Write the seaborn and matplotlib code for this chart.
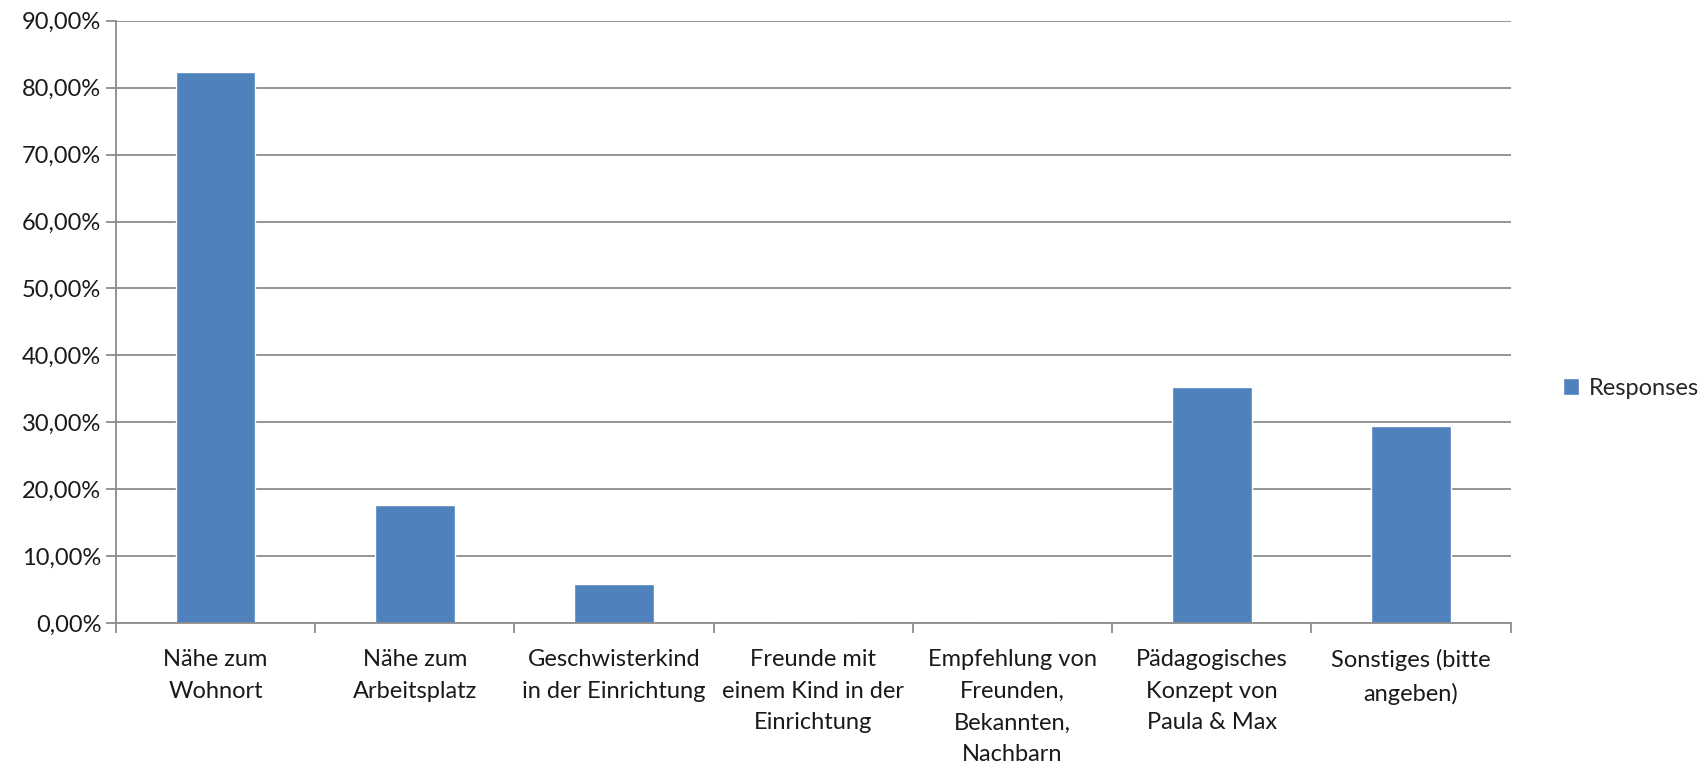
import pandas as pd
import matplotlib
matplotlib.use('Agg')
import matplotlib.pyplot as plt
from matplotlib.ticker import FuncFormatter, FixedLocator
import seaborn as sns

# chart data
categories = [
    "Nähe zum\nWohnort",
    "Nähe zum\nArbeitsplatz",
    "Geschwisterkind\nin der Einrichtung",
    "Freunde mit\neinem Kind in der\nEinrichtung",
    "Empfehlung von\nFreunden,\nBekannten,\nNachbarn",
    "Pädagogisches\nKonzept von\nPaula & Max",
    "Sonstiges (bitte\nangeben)",
]
responses = [82.35, 17.65, 5.88, 0.0, 0.0, 35.29, 29.41]
series_name = "Responses"

df = pd.DataFrame({"category": categories, "value": responses, "series": series_name})

sns.set_style("white")
plt.rcParams['font.family'] = ['Lato', 'DejaVu Sans']

fig = plt.figure(figsize=(17.05, 7.7), dpi=100)
ax = fig.add_axes([0.068, 0.191, 0.818, 0.782])

sns.barplot(data=df, x="category", y="value", hue="series", palette=["#4F81BD"],
            saturation=1, width=0.4, ax=ax, legend=True)

grid_color = "#8C8C8C"
ax.set_ylim(0, 90)
ax.set_xlim(-0.5, len(categories) - 0.5)
ax.set_yticks(range(0, 91, 10))
ax.yaxis.set_major_formatter(FuncFormatter(lambda v, p: f"{v:.2f}%".replace(".", ",")))
ax.grid(axis="y", color=grid_color, linewidth=1.3)
ax.set_axisbelow(True)
for s in ["top", "right"]:
    ax.spines[s].set_visible(False)
for s in ["left", "bottom"]:
    ax.spines[s].set_color(grid_color)
    ax.spines[s].set_linewidth(1.3)

# category labels at centers, tick marks at boundaries
ax.set_xticks(range(len(categories)))
ax.set_xticklabels(categories, linespacing=1.62)
ax.xaxis.set_minor_locator(FixedLocator([i - 0.5 for i in range(len(categories) + 1)]))
ax.tick_params(axis="x", which="major", length=0, pad=19, labelsize=17, colors="#1a1a1a")
ax.tick_params(axis="x", which="minor", length=7, width=1.3, color=grid_color, direction="out", bottom=True)
ax.tick_params(axis="y", length=7, width=1.3, color=grid_color, direction="out", left=True,
               labelsize=17, labelcolor="#1a1a1a")
ax.set_xlabel("")
ax.set_ylabel("")

handles, labels = ax.get_legend_handles_labels()
ax.legend(handles, labels, loc="center left", bbox_to_anchor=(1.022, 0.39), frameon=False,
          fontsize=17, handlelength=0.7, handleheight=0.7, handletextpad=0.4)

fig.savefig("out.png", dpi=100)
